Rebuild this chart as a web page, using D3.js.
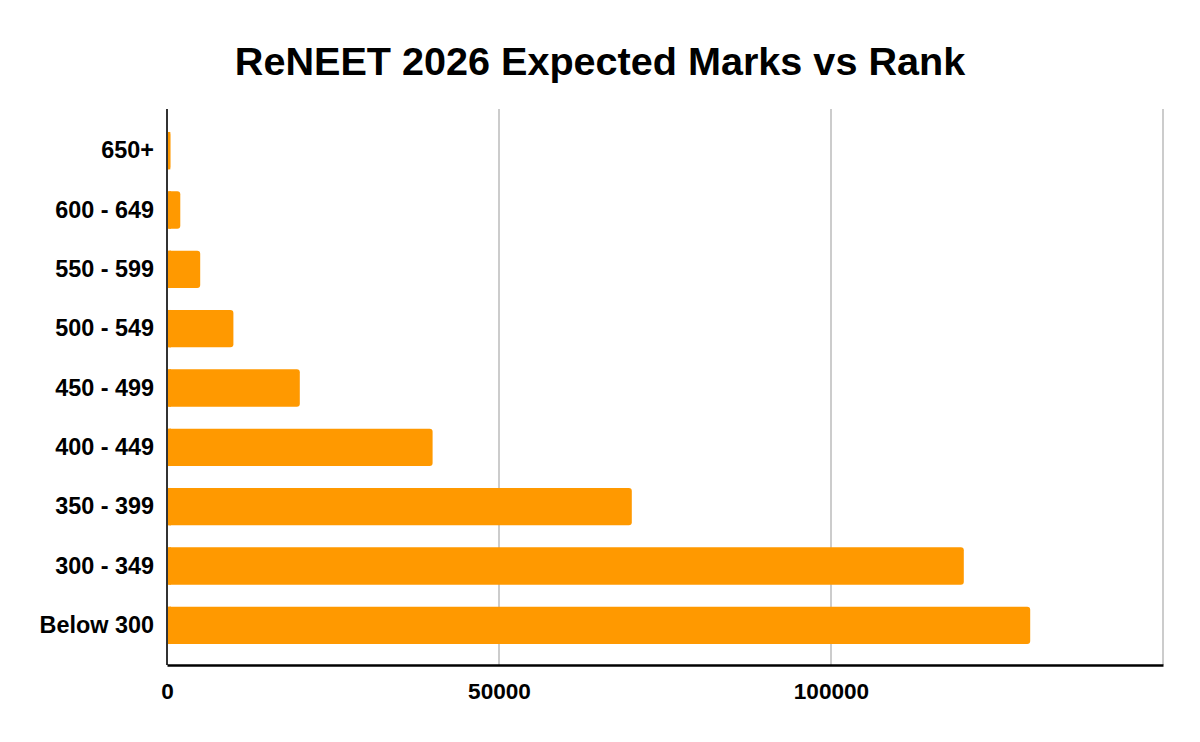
<!DOCTYPE html>
<html>
<head>
<meta charset="utf-8">
<script src="https://cdn.jsdelivr.net/npm/d3@7"></script>
<style>
  html, body { margin: 0; padding: 0; background: #fff; }
  svg { display: block; font-family: Arial, "Liberation Sans", sans-serif; }
</style>
</head>
<body>
<svg id="chart" width="1200" height="742"></svg>
<script>
const title = "ReNEET 2026 Expected Marks vs Rank";
const categories = ["650+", "600 - 649", "550 - 599", "500 - 549", "450 - 499", "400 - 449", "350 - 399", "300 - 349", "Below 300"];
const ranks = [500, 2000, 5000, 10000, 20000, 40000, 70000, 120000, 130000];
const xTicks = [0, 50000, 100000, 150000];
const xTickLabels = ["0", "50000", "100000", ""];

const svg = d3.select("#chart");
const plotLeft = 167, plotRight = 1163, plotTop = 109, plotBottom = 665;

const x = d3.scaleLinear().domain([0, 150000]).range([plotLeft, plotRight]);
const y = d3.scaleBand().domain(categories).range([121, 655]).paddingInner(0.37).paddingOuter(0.185);

svg.append("text")
  .attr("x", 600).attr("y", 75)
  .attr("text-anchor", "middle")
  .attr("font-size", 39.6).attr("font-weight", "bold").attr("fill", "#000")
  .text(title);

// gridlines
svg.append("g").selectAll("line")
  .data(xTicks.filter(d => d > 0))
  .join("line")
  .attr("x1", d => x(d)).attr("x2", d => x(d))
  .attr("y1", plotTop).attr("y2", plotBottom)
  .attr("stroke", "#cccccc").attr("stroke-width", 2);

const barData = categories.map((c, i) => ({c, v: ranks[i]}));

// bars
svg.append("g").selectAll("rect")
  .data(barData)
  .join("rect")
  .attr("x", x(0))
  .attr("y", d => y(d.c))
  .attr("width", d => x(d.v) - x(0))
  .attr("height", y.bandwidth())
  .attr("rx", 3).attr("ry", 3)
  .attr("fill", "#ff9900");

// square off left corners
svg.append("g").selectAll("rect")
  .data(barData)
  .join("rect")
  .attr("x", x(0))
  .attr("y", d => y(d.c))
  .attr("width", d => Math.min(4, x(d.v) - x(0)))
  .attr("height", y.bandwidth())
  .attr("fill", "#ff9900");

// left axis line
svg.append("line")
  .attr("x1", plotLeft).attr("x2", plotLeft).attr("y1", plotTop).attr("y2", plotBottom)
  .attr("stroke", "#333").attr("stroke-width", 2);

// bottom axis
const xAxis = d3.axisBottom(x).tickValues(xTicks).tickSize(0).tickFormat((d, i) => xTickLabels[i]);
const gx = svg.append("g").attr("transform", `translate(0,${plotBottom})`).call(xAxis);
gx.select(".domain").attr("stroke", "#000").attr("stroke-width", 2.5);
gx.selectAll("text")
  .attr("font-size", 22.6).attr("font-weight", "bold").attr("fill", "#000")
  .attr("font-family", "Arial, 'Liberation Sans', sans-serif")
  .attr("dy", null).attr("y", 34);

// left axis labels
const yAxis = d3.axisLeft(y).tickSize(0).tickPadding(13);
const gy = svg.append("g").attr("transform", `translate(${plotLeft},0)`).call(yAxis);
gy.select(".domain").remove();
gy.selectAll("text")
  .attr("font-size", 23.4).attr("font-weight", "bold").attr("fill", "#000")
  .attr("font-family", "Arial, 'Liberation Sans', sans-serif");
</script>
</body>
</html>
